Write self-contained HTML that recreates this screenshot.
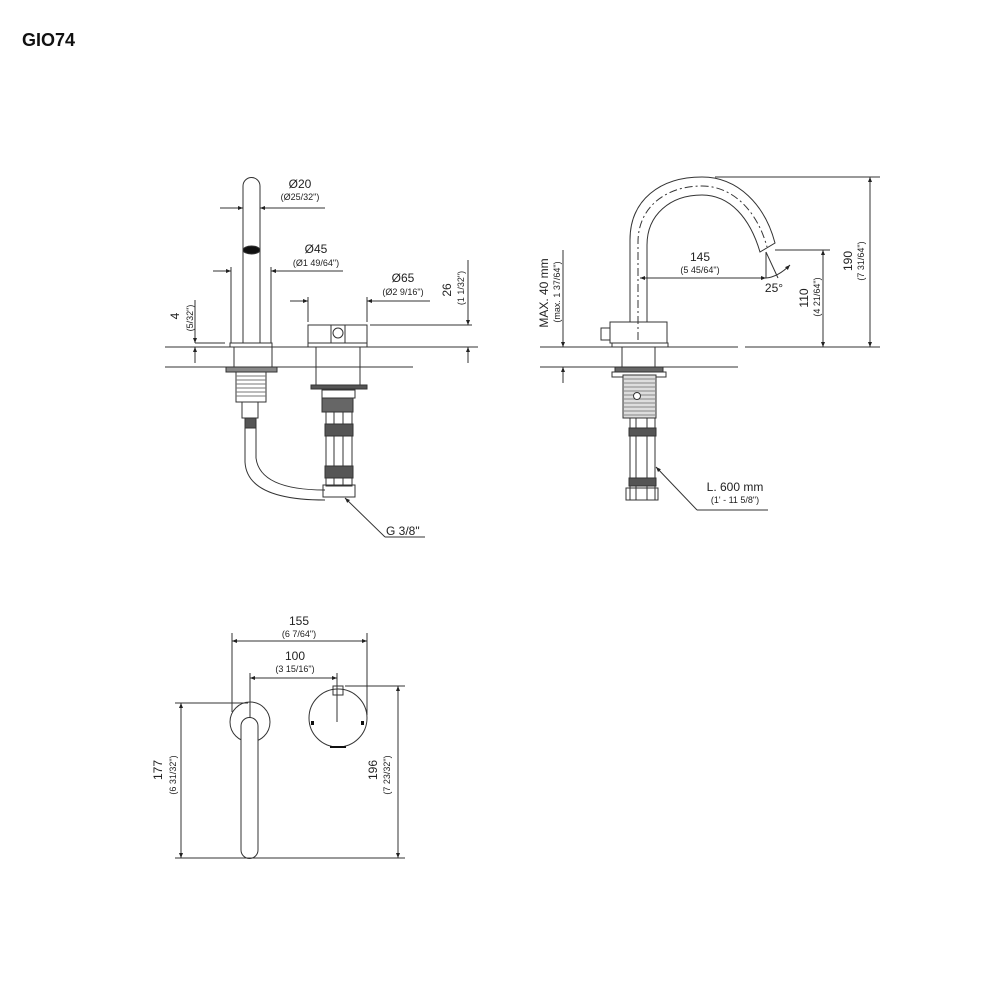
<!DOCTYPE html>
<html><head><meta charset="utf-8"><style>
html,body{margin:0;padding:0;background:#fff;width:1000px;height:1000px;overflow:hidden}
svg{display:block}
text{font-family:"Liberation Sans",sans-serif;fill:#222}
.b{font-size:12px}.s{font-size:9px}
</style></head><body>
<svg width="1000" height="1000" viewBox="0 0 1000 1000" xmlns="http://www.w3.org/2000/svg">
<defs>
<marker id="a" viewBox="0 0 10 10" refX="10" refY="5" markerWidth="8" markerHeight="5" orient="auto-start-reverse"><path d="M0,1L10,5L0,9z" fill="#222"/></marker>
</defs>
<text x="22" y="46" style="font-size:18px;font-weight:bold;fill:#111">GIO74</text>
<g stroke="#333" stroke-width="1" fill="none">
<!-- TOP LEFT -->
<line x1="165" y1="347" x2="478" y2="347"/><line x1="165" y1="367" x2="413" y2="367"/>
<path d="M243,343 L243,186 A8.5,8.5 0 0 1 260,186 L260,343"/>
<ellipse cx="251.5" cy="250" rx="8.5" ry="4" fill="#111"/>
<line x1="220" y1="208" x2="243" y2="208" marker-end="url(#a)"/><line x1="325" y1="208" x2="260" y2="208" marker-end="url(#a)"/>
<line x1="231" y1="267" x2="231" y2="343"/><line x1="271" y1="267" x2="271" y2="343"/>
<line x1="213" y1="271" x2="231" y2="271" marker-end="url(#a)"/><line x1="343" y1="271" x2="271" y2="271" marker-end="url(#a)"/>
<rect x="230" y="343" width="42" height="4"/>
<line x1="308" y1="297" x2="308" y2="322"/><line x1="367" y1="297" x2="367" y2="322"/>
<line x1="290" y1="301" x2="308" y2="301" marker-end="url(#a)"/><line x1="430" y1="301" x2="367" y2="301" marker-end="url(#a)"/>
<rect x="308" y="325" width="59" height="18"/><line x1="331" y1="325" x2="331" y2="343"/><line x1="345" y1="325" x2="345" y2="343"/>
<circle cx="338" cy="333" r="5"/><rect x="308" y="343" width="59" height="4"/>
<line x1="370" y1="325" x2="472" y2="325"/>
<line x1="468" y1="260" x2="468" y2="325" marker-end="url(#a)"/><line x1="468" y1="363" x2="468" y2="347" marker-end="url(#a)"/>
<line x1="195" y1="300" x2="195" y2="343" marker-end="url(#a)"/><line x1="195" y1="363" x2="195" y2="347" marker-end="url(#a)"/>
<line x1="195" y1="343" x2="225" y2="343"/>
<rect x="234" y="347" width="38" height="20"/>
<rect x="226" y="367" width="51" height="5" fill="#888"/>
<rect x="236" y="372" width="30" height="30"/>
<path d="M236,376h30M236,380h30M236,384h30M236,388h30M236,392h30M236,396h30" stroke="#777"/>
<rect x="242" y="402" width="16" height="16"/>
<rect x="245" y="418" width="11" height="10" fill="#555"/>
<path d="M245,428 L245,462 Q247,500 325,500"/><path d="M256,428 L256,458 Q260,490 325,490"/>
<rect x="316" y="347" width="44" height="41"/><rect x="311" y="385" width="56" height="4" fill="#555"/>
<rect x="322" y="390" width="33" height="8"/><rect x="322" y="398" width="31" height="14" fill="#666"/>
<rect x="326" y="412" width="26" height="74"/>
<path d="M334,412v74M343,412v74"/>
<rect x="325" y="424" width="28" height="12" fill="#555"/><rect x="325" y="466" width="28" height="12" fill="#555"/>
<rect x="323" y="485" width="32" height="12"/>
<line x1="385" y1="537" x2="345" y2="498" marker-end="url(#a)"/><line x1="385" y1="537" x2="425" y2="537"/>
<!-- TOP RIGHT -->
<line x1="540" y1="347" x2="738" y2="347"/><line x1="745" y1="347" x2="880" y2="347"/>
<line x1="540" y1="367" x2="738" y2="367"/>
<path d="M630,322 L630,240 C630,200 660,177 702,177 C738,177 765,205 775,243 L760,252 C750,218 730,195 702,195 C670,195 647,215 647,245 L647,322"/>
<path d="M638,340 L638,242 C638,208 665,186 702,186 C732,186 757,210 767,247" stroke-dasharray="8,3,2,3"/>
<rect x="610" y="322" width="57" height="21"/><rect x="601" y="328" width="9" height="12"/>
<rect x="612" y="343" width="56" height="4"/>
<rect x="622" y="347" width="33" height="21"/><rect x="615" y="367" width="48" height="5" fill="#666"/>
<rect x="612" y="372" width="54" height="5"/>
<rect x="623" y="375" width="33" height="43" fill="#ddd"/>
<path d="M623,379h33M623,383h33M623,387h33M623,391h33M623,395h33M623,399h33M623,403h33M623,407h33M623,411h33M623,415h33" stroke="#888"/>
<circle cx="637" cy="396" r="3.5" fill="#fff"/>
<rect x="630" y="418" width="25" height="82"/>
<path d="M636,418v82M647,418v82"/>
<rect x="629" y="428" width="27" height="8" fill="#555"/><rect x="629" y="478" width="27" height="8" fill="#555"/>
<rect x="626" y="488" width="32" height="12"/>
<line x1="697" y1="510" x2="656" y2="467" marker-end="url(#a)"/><line x1="697" y1="510" x2="768" y2="510"/>
<line x1="700" y1="278" x2="640" y2="278" marker-end="url(#a)"/><line x1="700" y1="278" x2="766" y2="278" marker-end="url(#a)"/>
<line x1="766" y1="252" x2="766" y2="278"/><line x1="766" y1="252" x2="778" y2="278"/>
<path d="M766,278 Q778,277 790,265" marker-end="url(#a)"/>
<line x1="775" y1="250" x2="830" y2="250"/>
<line x1="823" y1="300" x2="823" y2="250" marker-end="url(#a)"/><line x1="823" y1="300" x2="823" y2="347" marker-end="url(#a)"/>
<line x1="715" y1="177" x2="880" y2="177"/>
<line x1="870" y1="260" x2="870" y2="177" marker-end="url(#a)"/><line x1="870" y1="260" x2="870" y2="347" marker-end="url(#a)"/>
<line x1="563" y1="250" x2="563" y2="347" marker-end="url(#a)"/><line x1="563" y1="383" x2="563" y2="367" marker-end="url(#a)"/>
<!-- BOTTOM -->
<line x1="232" y1="633" x2="232" y2="712"/><line x1="367" y1="633" x2="367" y2="715"/>
<line x1="300" y1="641" x2="232" y2="641" marker-end="url(#a)"/><line x1="300" y1="641" x2="367" y2="641" marker-end="url(#a)"/>
<line x1="250" y1="673" x2="250" y2="722"/><line x1="337" y1="673" x2="337" y2="722"/>
<line x1="295" y1="678" x2="250" y2="678" marker-end="url(#a)"/><line x1="295" y1="678" x2="337" y2="678" marker-end="url(#a)"/>
<circle cx="250" cy="722" r="20"/>
<path d="M241,726 A8.5,8.5 0 0 1 258,726 L258,850 A8.5,8.5 0 0 1 241,850 Z" fill="#fff"/>
<circle cx="338" cy="718" r="29"/>
<rect x="333" y="686" width="10" height="9"/>
<line x1="345" y1="686" x2="405" y2="686"/>
<line x1="175" y1="703" x2="248" y2="703"/>
<line x1="181" y1="780" x2="181" y2="703" marker-end="url(#a)"/><line x1="181" y1="780" x2="181" y2="858" marker-end="url(#a)"/>
<line x1="398" y1="770" x2="398" y2="686" marker-end="url(#a)"/><line x1="398" y1="770" x2="398" y2="858" marker-end="url(#a)"/>
<line x1="175" y1="858" x2="405" y2="858"/>
</g>
<g fill="#111"><rect x="311" y="721" width="3" height="4"/><rect x="361" y="721" width="3" height="4"/><rect x="330" y="746" width="16" height="2"/></g>
<g text-anchor="middle">
<text class="b" x="300" y="188">Ø20</text><text class="s" x="300" y="200">(Ø25/32")</text>
<text class="b" x="316" y="253">Ø45</text><text class="s" x="316" y="266">(Ø1 49/64")</text>
<text class="b" x="403" y="282">Ø65</text><text class="s" x="403" y="295">(Ø2 9/16")</text>
<text class="b" x="386" y="535" text-anchor="start">G 3/8"</text>
<text class="b" x="700" y="261">145</text><text class="s" x="700" y="273">(5 45/64")</text>
<text class="b" x="774" y="292">25°</text>
<text class="b" x="735" y="491">L. 600 mm</text><text class="s" x="735" y="503">(1' - 11 5/8")</text>
<text class="b" x="299" y="625">155</text><text class="s" x="299" y="637">(6 7/64")</text>
<text class="b" x="295" y="660">100</text><text class="s" x="295" y="672">(3 15/16")</text>
<text class="b" transform="translate(179,316) rotate(-90)">4</text><text class="s" transform="translate(193,318) rotate(-90)">(5/32")</text>
<text class="b" transform="translate(451,290) rotate(-90)">26</text><text class="s" transform="translate(464,288) rotate(-90)">(1 1/32")</text>
<text class="b" transform="translate(548,293) rotate(-90)">MAX. 40 mm</text><text class="s" transform="translate(560,292) rotate(-90)">(max. 1 37/64")</text>
<text class="b" transform="translate(808,298) rotate(-90)">110</text><text class="s" transform="translate(820,297) rotate(-90)">(4 21/64")</text>
<text class="b" transform="translate(852,261) rotate(-90)">190</text><text class="s" transform="translate(864,261) rotate(-90)">(7 31/64")</text>
<text class="b" transform="translate(162,770) rotate(-90)">177</text><text class="s" transform="translate(176,775) rotate(-90)">(6 31/32")</text>
<text class="b" transform="translate(377,770) rotate(-90)">196</text><text class="s" transform="translate(390,775) rotate(-90)">(7 23/32")</text>
</g>
</svg>
</body></html>
